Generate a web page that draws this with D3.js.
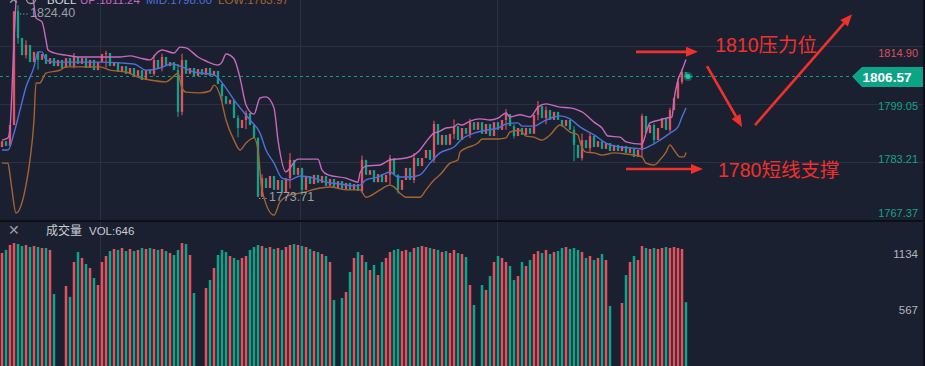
<!DOCTYPE html>
<html><head><meta charset="utf-8">
<script src="https://cdn.jsdelivr.net/npm/d3@7"></script>
<style>
html,body{margin:0;padding:0;background:#1b2030;overflow:hidden}
svg{display:block}
text{font-family:"Liberation Sans",Arial,"Noto Sans CJK SC",sans-serif}
</style></head><body>
<svg id="c" width="925" height="366"></svg>
<script>
// ---------------- DATA ----------------
const firstOpen = 1787.3;
const closes = [
1788.9,1787.6,1793.3,1824.4,1817.1,1812.4,1815.2,1810.5,1813.3,1811.1,
1812.7,1810.0,1811.6,1809.4,1811.1,1808.9,1811.6,1809.4,1811.9,1810.0,
1811.6,1808.9,1811.1,1808.3,1810.5,1812.7,1813.0,1809.4,1810.5,1807.8,
1809.4,1807.3,1808.9,1806.7,1808.3,1805.6,1808.3,1807.3,1811.1,1808.9,
1811.9,1809.4,1810.5,1808.3,1796.9,1811.1,1807.3,1808.9,1806.7,1808.6,
1807.0,1808.9,1806.7,1808.1,1804.5,1801.2,1799.1,1800.2,1795.2,1792.5,
1794.7,1796.6,1793.3,1789.8,1773.71,1778.8,1776.1,1779.4,1775.6,1778.3,
1775.0,1778.8,1783.8,1779.7,1781.6,1775.6,1779.4,1777.2,1779.7,1777.5,
1779.4,1776.7,1778.6,1776.1,1778.0,1775.8,1777.5,1775.6,1777.2,1775.3,
1783.8,1779.7,1781.0,1777.7,1779.9,1777.7,1779.7,1784.3,1779.7,1775.6,
1778.3,1781.6,1778.3,1784.3,1782.1,1784.3,1786.5,1783.8,1793.6,1787.9,
1790.6,1787.9,1790.9,1793.0,1789.2,1792.5,1790.9,1794.1,1792.0,1794.1,
1790.9,1793.6,1790.3,1794.1,1792.0,1794.7,1796.3,1793.0,1790.3,1792.5,
1790.6,1792.5,1790.9,1796.1,1798.5,1795.2,1797.4,1794.7,1796.9,1794.7,
1793.0,1794.7,1792.0,1787.9,1784.3,1789.2,1787.0,1790.3,1787.3,1788.9,
1786.8,1788.4,1786.2,1787.9,1786.2,1787.6,1785.7,1787.0,1784.6,1786.5,
1795.8,1791.1,1793.3,1789.2,1792.5,1795.2,1792.0,1797.4,1800.7,1805.1,
1807.8,1806.57
];
const volumes = [
1144,1175,1225,1245,1235,1215,1225,1205,1215,1205,
1195,1195,1175,729,0,0,810,700,1053,1154,
1094,1033,992,891,820,1053,1114,1164,1185,1175,
1195,1164,1185,1164,1175,1195,1185,1195,1185,1175,
1185,1164,1144,1124,1175,1245,1235,1124,739,0,
0,790,871,992,1124,1175,1154,1114,1094,1073,
1094,1114,1175,1205,1225,1215,1195,1205,1185,1195,
1175,1205,1225,1235,1225,1215,1205,1185,1164,1154,
1134,1114,1053,668,0,689,749,952,1094,1154,
1124,1053,972,1023,921,1053,1094,1154,1175,1185,
1164,1175,1154,1195,1205,1215,1205,1195,1185,1175,
1154,1164,1144,1175,1144,1134,1104,820,618,0,
820,770,911,1053,1114,1094,1053,1013,871,911,
1053,1013,1073,1134,1164,1144,1175,1134,1154,1164,
1195,1205,1185,1195,1175,1154,1094,1114,1073,1094,
1134,1073,608,0,0,638,921,1053,1114,1073,
1215,1195,1185,1195,1185,1195,1205,1195,1205,1195,
1185,646
];
// candle wicks that reach beyond the body: [candle index, high, low]
const wicks = [
[4,1826.0,1815.5],[6,1816.5,1811.5],[9,1813.0,1808.5],[18,1813.0,1808.8],[26,1813.6,1809.0],
[38,1812.5,1806.8],[40,1812.8,1808.0],[44,1810.0,1795.5],[45,1812.8,1796.0],[55,1804.0,1799.8],
[59,1796.0,1790.0],[61,1797.3,1792.2],[64,1789.9,1773.71],[65,1779.9,1774.5],[72,1785.7,1776.0],
[75,1781.0,1774.2],[90,1785.0,1774.8],[97,1785.1,1777.0],[99,1779.9,1774.6],[103,1785.7,1777.5],
[108,1794.5,1783.0],[113,1794.8,1789.5],[117,1795.0,1789.8],[126,1797.7,1792.0],[128,1793.5,1789.6],
[134,1799.9,1794.6],[136,1798.4,1793.5],[143,1793.0,1783.4],[145,1791.0,1783.6],[147,1791.2,1786.0],
[160,1796.4,1784.3],[163,1793.7,1788.3],[167,1798.0,1791.5],[169,1806.0,1800.4],[170,1808.6,1804.5]
];
// Bollinger bands as [candle index, price]
const bollUp = [[0,1789.2],[1.5,1789.8],[2,1792.5],[2.5,1802.9],[3,1816.5],[3.5,1827.5],[4.5,1838.4],[6.5,1835.7],[8,1826.1],[8.5,1822.6],[10,1821.5],[11,1816.5],[11.5,1813.8],[13,1813.0],[16,1812.4],[19.5,1811.9],[24.5,1811.9],[29.5,1811.9],[32,1812.2],[34.5,1811.6],[37,1811.1],[39,1813.3],[40,1813.8],[43,1813.0],[44.5,1814.6],[46,1814.4],[49,1811.9],[51,1810.8],[54,1809.7],[55,1810.5],[56,1812.7],[58,1811.4],[59.5,1806.2],[61,1798.8],[63,1796.3],[64.5,1800.7],[66,1801.0],[68,1798.0],[69,1789.2],[71,1780.5],[72,1781.6],[74,1784.0],[79,1784.0],[80,1781.0],[81.5,1779.7],[86,1778.8],[89,1777.7],[89.5,1780.2],[91,1782.1],[94.5,1782.4],[97,1783.8],[101,1784.3],[103,1785.1],[104.5,1786.5],[106,1788.7],[108,1791.1],[109,1791.4],[111,1792.5],[113,1792.8],[114,1793.6],[115,1793.3],[117,1794.4],[119.5,1795.0],[122,1794.7],[124,1795.2],[126,1796.6],[127,1795.5],[129.5,1796.1],[132,1795.5],[134,1798.2],[136,1799.1],[139.5,1798.2],[142,1798.0],[144,1797.4],[145,1796.9],[148,1794.1],[150,1792.5],[151.5,1790.3],[154.5,1790.0],[156,1788.7],[160,1788.1],[161,1791.1],[162,1793.9],[164.5,1794.7],[166,1795.2],[167.5,1795.5],[168,1800.2],[169,1805.6],[170,1808.3],[171,1811.24]];
const bollMid = [[0,1786.5],[1.5,1786.5],[3,1791.1],[4.5,1797.4],[6,1803.7],[8,1809.2],[9,1813.3],[10,1813.3],[11,1811.1],[13,1810.5],[24.5,1810.5],[33,1810.0],[36,1808.3],[39.5,1808.9],[42.5,1810.0],[44.5,1809.4],[48,1807.8],[53,1807.0],[56,1803.4],[58,1800.2],[62,1794.7],[64.5,1791.1],[66,1786.5],[68,1782.9],[70,1778.8],[72,1778.3],[74.5,1779.4],[78,1778.8],[81,1777.7],[84.5,1777.2],[88,1776.7],[89.5,1776.9],[91,1778.3],[94,1779.1],[97,1780.5],[99,1779.1],[102,1779.1],[104.5,1779.7],[107,1782.9],[109.5,1785.7],[113,1787.3],[115,1789.5],[118,1791.1],[121,1791.9],[124,1792.5],[126,1793.6],[129,1793.9],[130,1793.0],[133,1793.0],[135,1794.1],[138,1795.5],[139.5,1795.8],[142,1795.0],[144.5,1792.8],[148,1790.6],[151,1788.4],[154.5,1787.3],[158,1787.0],[160,1786.8],[162,1787.6],[164.5,1789.2],[167,1791.1],[169,1792.8],[170,1795.5],[171,1798.0]];
const bollLow = [[0,1782.9],[1.5,1782.9],[2,1779.7],[2.5,1775.6],[3.5,1769.3],[4.5,1770.6],[6,1776.9],[7,1783.8],[8,1794.7],[8.5,1804.8],[9.5,1804.8],[10,1805.6],[11,1807.5],[14.5,1808.3],[16,1809.2],[24.5,1809.2],[27,1808.3],[31,1807.8],[34.5,1806.2],[37,1805.6],[41,1805.1],[42.5,1806.2],[44,1807.5],[45,1803.4],[46,1802.3],[49.5,1802.1],[52,1802.6],[53,1804.2],[54.5,1801.5],[56,1794.7],[58,1789.2],[59.5,1786.5],[61,1788.4],[63,1789.8],[64,1786.5],[65,1775.6],[68,1768.7],[69.5,1772.3],[72,1774.2],[74.5,1774.7],[79.5,1776.1],[82,1776.4],[86,1775.6],[89.5,1775.6],[91,1773.6],[92.5,1774.2],[94.5,1775.6],[97,1776.9],[98,1776.4],[99.5,1774.7],[101,1773.6],[104.5,1773.6],[106,1775.6],[108,1778.3],[109.5,1779.7],[112,1782.9],[114,1783.8],[114.5,1785.9],[116,1787.0],[119,1788.4],[120,1789.5],[124,1789.5],[126,1789.8],[127,1791.4],[129.5,1791.9],[131,1790.3],[133,1790.0],[135,1789.2],[137,1790.6],[139.5,1793.3],[142,1791.4],[144,1790.6],[144.5,1788.7],[146,1785.9],[148,1785.7],[150,1785.1],[153,1785.7],[156,1785.4],[159,1784.9],[160,1784.6],[161,1782.9],[163,1782.4],[164.5,1783.8],[166,1785.9],[167,1787.9],[168,1786.5],[169.5,1784.6],[170.5,1784.6],[171,1785.8]];
const priceTicks = [1814.90, 1799.05, 1783.21, 1767.37];
const volTicks = [1134, 567];
const timeGrid = [24.5, 74.5, 123.75];
const lastPrice = 1806.57;
const lastVolume = 646;
const legend = [["BOLL",""],["UP:","1811.24"],["MID:","1798.00"],["LOW:","1783.97"]];
const extremes = [{i:3, p:1824.40, label:"1824.40"}, {i:64, p:1773.71, label:"1773.71"}];
const arrows = [
  {from:[158.5,1813.3], to:[174,1813.3]},
  {from:[176.25,1809.4], to:[185,1792.8]},
  {from:[188.25,1793.3], to:[212.5,1823.6]},
  {from:[156,1781.3], to:[175.25,1781.3]}
];
const notes = [{i:178.3, p:1815.2, text:"1810压力位"}, {i:179, p:1781.0, text:"1780短线支撑"}];

// ---------------- CHART ----------------
const W = 925, H = 366, PANE = 220;
const RED = "#e4525e", GREEN = "#0fa389";
const svg = d3.select("#c");
const x = d3.scaleLinear().domain([0, 171]).range([2, 686]);
const y = d3.scaleLinear().domain([1767.37, 1814.90]).range([220, 46]);
const yLab = d3.scaleLinear().domain([1767.37, 1814.90]).range([213, 52.7]);
const v = d3.scaleLinear().domain([0, 1134]).range([366, 254]);

const candles = closes.map((c, i) => ({i, o: i ? closes[i - 1] : firstOpen, c, vol: volumes[i]}));
const col = d => d.c >= d.o ? RED : GREEN;

svg.append("rect").attr("width", W).attr("height", H).attr("fill", "#1b2030");

const defs = svg.append("defs");
defs.append("clipPath").attr("id", "mainClip").append("rect").attr("x", 0).attr("y", 0).attr("width", W).attr("height", PANE);

// grid
const grid = svg.append("g").attr("stroke", "#2a3142").attr("stroke-width", 1);
priceTicks.forEach(p => {
  const yy = Math.round(y(p)) + 0.5;
  grid.append("line").attr("x1", 0).attr("x2", W).attr("y1", yy).attr("y2", yy);
});
timeGrid.forEach(t => {
  const xx = Math.round(x(t)) + 0.5;
  grid.append("line").attr("x1", xx).attr("x2", xx).attr("y1", 0).attr("y2", H);
});

// last price dashed line
svg.append("line").attr("x1", 0).attr("x2", 852).attr("y1", y(lastPrice)).attr("y2", y(lastPrice))
  .attr("stroke", "#139c84").attr("stroke-width", 1).attr("stroke-dasharray", "3,3");

const main = svg.append("g").attr("clip-path", "url(#mainClip)");

// wicks
main.selectAll("line.w").data(wicks).join("line").attr("class", "w")
  .attr("x1", d => x(d[0])).attr("x2", d => x(d[0]))
  .attr("y1", d => y(d[1])).attr("y2", d => y(d[2]))
  .attr("stroke", d => col(candles[d[0]])).attr("stroke-width", 1.1);

// candles
main.selectAll("rect.k").data(candles).join("rect").attr("class", "k")
  .attr("x", d => x(d.i) - 1.15).attr("width", 2.3)
  .attr("y", d => y(Math.max(d.o, d.c)))
  .attr("height", d => Math.max(1, Math.abs(y(d.o) - y(d.c))))
  .attr("fill", col);

// bollinger
const line = d3.line().x(d => x(d[0])).y(d => y(d[1])).curve(d3.curveMonotoneX);
[[bollUp, "#c868bf"], [bollMid, "#4f6fdc"], [bollLow, "#a5642f"]].forEach(([data, c]) => {
  main.append("path").datum(data).attr("d", line).attr("fill", "none").attr("stroke", c).attr("stroke-width", 1.4);
});

// last candle marker
main.append("circle").attr("cx", x(171) + 2).attr("cy", y(lastPrice)).attr("r", 4.5).attr("fill", "#12a58a").attr("opacity", 0.45);
main.append("circle").attr("cx", x(171) + 2).attr("cy", y(lastPrice)).attr("r", 2.5).attr("fill", "#1fc9a6");

// volume
svg.append("g").selectAll("rect").data(candles.filter(d => d.vol > 0)).join("rect")
  .attr("x", d => x(d.i) - 1.25).attr("width", 2.5)
  .attr("y", d => v(d.vol)).attr("height", d => v(0) - v(d.vol))
  .attr("fill", col);

// separator & right border
svg.append("rect").attr("x", 0).attr("y", PANE).attr("width", W).attr("height", 2).attr("fill", "#0c0f15");
svg.append("rect").attr("x", 923).attr("y", 0).attr("width", 2).attr("height", H).attr("fill", "#0c0f15");

// price axis labels
svg.append("g").selectAll("text").data(priceTicks).join("text")
  .attr("x", 918).attr("y", p => yLab(p)).attr("dy", "0.35em").attr("text-anchor", "end")
  .attr("font-size", 11).attr("fill", p => p > lastPrice ? "#d9505c" : "#16a386")
  .text(p => p.toFixed(2));

// last price badge
const by = y(lastPrice);
svg.append("path").attr("d", `M852,${by} L862,${by - 9.5} L923,${by - 9.5} L923,${by + 10.5} L862,${by + 10.5} Z`).attr("fill", "#0da387");
svg.append("text").attr("x", 887).attr("y", by + 0.5).attr("dy", "0.36em").attr("text-anchor", "middle")
  .attr("font-size", 13.5).attr("font-weight", "bold").attr("fill", "#ffffff").text(lastPrice.toFixed(2));

// volume axis labels
svg.append("g").selectAll("text").data(volTicks).join("text")
  .attr("x", 918).attr("y", d => v(d)).attr("dy", "0.35em").attr("text-anchor", "end")
  .attr("font-size", 11.5).attr("fill", "#b2b5be").text(d => d);

// top legend (cut by top edge, as in the reference)
const legendX = [47, 80, 146, 218], legendCol = ["#d8dae0", "#c868bf", "#4f6fdc", "#a5642f"];
legend.forEach((l, k) => {
  svg.append("text").attr("x", legendX[k]).attr("y", 4).attr("font-size", 11.5).attr("fill", legendCol[k]).text(l[0] + l[1]);
});
svg.append("text").attr("x", 8).attr("y", 4).attr("font-size", 13).attr("fill", "#9a9da6").text("✕");
svg.append("circle").attr("cx", 31).attr("cy", -1).attr("r", 4.5).attr("fill", "none").attr("stroke", "#9a9da6").attr("stroke-width", 1.3);

// extremes labels
extremes.forEach(e => {
  const ly = e.i === 3 ? 12 : 196.5;
  const lx = e.i === 3 ? 20 : 259;
  svg.append("line").attr("x1", lx).attr("x2", lx + 8).attr("y1", ly + 2).attr("y2", ly + 2)
    .attr("stroke", "#9a9da6").attr("stroke-width", 1.2).attr("stroke-dasharray", "1.2,2");
  svg.append("text").attr("x", lx + 10).attr("y", ly).attr("dy", "0.36em").attr("font-size", 12.5).attr("fill", "#9a9da6").text(e.label);
});

// volume title
svg.append("text").attr("x", 8).attr("y", 235).attr("font-size", 14).attr("fill", "#9a9da6").text("✕");
svg.append("text").attr("x", 46).attr("y", 235).attr("font-size", 12).attr("fill", "#c9ccd3")
  .style("font-family", "'Noto Sans CJK SC',sans-serif").text("成交量");
svg.append("text").attr("x", 89).attr("y", 235).attr("font-size", 11.5).attr("fill", "#c9ccd3").text("VOL:" + lastVolume);

// annotations
const ARED = "#f0302b";
arrows.forEach(a => {
  const x1 = x(a.from[0]), y1 = y(a.from[1]), x2 = x(a.to[0]), y2 = y(a.to[1]);
  const ang = Math.atan2(y2 - y1, x2 - x1), L = 12, Wd = 5;
  const bx = x2 - L * Math.cos(ang), byy = y2 - L * Math.sin(ang);
  svg.append("line").attr("x1", x1).attr("y1", y1).attr("x2", bx).attr("y2", byy)
    .attr("stroke", ARED).attr("stroke-width", 2.6);
  const px = -Math.sin(ang), py = Math.cos(ang);
  svg.append("path").attr("d", `M${x2},${y2} L${bx + px * Wd},${byy + py * Wd} L${bx - px * Wd},${byy - py * Wd} Z`).attr("fill", ARED);
});
notes.forEach(n => {
  svg.append("text").attr("x", x(n.i)).attr("y", y(n.p)).attr("dy", "0.36em").attr("font-size", 19.5).attr("fill", ARED).text(n.text);
});
</script>
</body></html>
